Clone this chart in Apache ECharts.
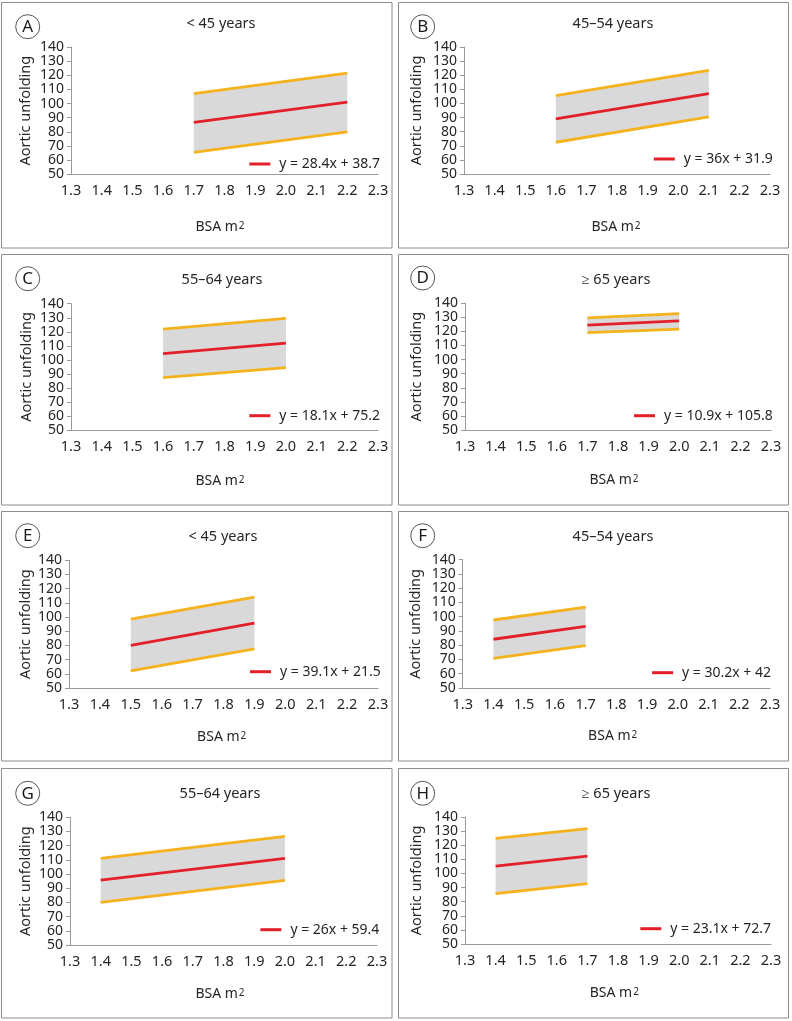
<!DOCTYPE html>
<html><head><meta charset="utf-8">
<script src="https://cdn.jsdelivr.net/npm/echarts@6/dist/echarts.min.js"></script>
<style>html,body{margin:0;padding:0;background:#fff}#c{width:792px;height:1021px}</style>
</head><body><div id="c"></div>
<script>
// ---------- data ----------
const panelLetters = ['A','B','C','D','E','F','G','H'];
const ageGroups = ['< 45 years','45–54 years','55–64 years','≥ 65 years','< 45 years','45–54 years','55–64 years','≥ 65 years'];
const equations = ['y = 28.4x + 38.7','y = 36x + 31.9','y = 18.1x + 75.2','y = 10.9x + 105.8','y = 39.1x + 21.5','y = 30.2x + 42','y = 26x + 59.4','y = 23.1x + 72.7'];
const xTickLabels = ['1.3','1.4','1.5','1.6','1.7','1.8','1.9','2.0','2.1','2.2','2.3'];
const yTickLabels = [50,60,70,80,90,100,110,120,130,140];
const bsaRange   = [[1.7,2.2],[1.6,2.1],[1.6,2.0],[1.7,2.0],[1.5,1.9],[1.4,1.7],[1.4,2.0],[1.4,1.7]];
const upperBound = [[107,121.5],[105.5,123.5],[122,129.5],[129.5,132.5],[98.5,114],[97.7,106.8],[111,126.5],[124.8,131.8]];
const fitLine    = [[86.7,101],[89,107],[104.5,112],[124.3,127.3],[80,95.8],[84.2,93.3],[95.7,111],[105.2,112.2]];
const lowerBound = [[65.5,80],[72.5,90.5],[87.5,94.5],[119,121.5],[62,77.5],[70.8,79.7],[80,95.5],[85.7,92.8]];

// ---------- layout (pixels) ----------
const boxes   = [[1.5,2.5,390.5,245.5],[398.5,2.5,390,245.5],[1.5,254.5,390.5,250.5],[398.5,254.5,390,250.5],
                 [1.5,511.5,390.5,249.5],[398.5,511.5,390,249.5],[1.5,768.5,390.5,249.5],[398.5,768.5,390,249.5]];
const grids   = [[71,47,378,174.3],[464,47,770,174],[71,303.7,378,430.3],[465,303,771,430.3],
                 [69,560.3,378,688],[462.7,559.7,770,688],[70,817.3,377,945],[465,817,771,944]];
const titlePos  = [[221,25],[613,25],[222,281],[616,281],[223,538],[613,538],[220,795],[616,795]];
const badgePos  = [[27.7,26.7],[422.7,26.7],[27.7,278.7],[422.7,278],[27.7,535.7],[422.7,535.7],[27.7,793.3],[422.7,793.3]];
const legendPos = [[380,166],[772.7,161],[380,417.7],[772.7,417.7],[380.7,673.7],[771,674.7],[379.3,931.7],[771,930.7]];
const yNameX    = [25,416.7,26.7,416.7,25,415,25,416.7];
const xNamePos  = [[220,227.7],[616,227.7],[220,482],[614,481.3],[221.7,738],[612.7,737.3],[220,995],[614.3,994.3]];

const FONT = 'Noto Sans';
const TXT = '#262626';
const AXIS = '#9a9a9a';
const ORANGE = '#F5B21C';
const RED = '#E3202A';
const BAND = '#D9D9D9';
const W = 792;

const option = {
  animation: false,
  backgroundColor: '#fff',
  textStyle: { fontFamily: FONT },
  grid: [], xAxis: [], yAxis: [], series: [], title: [], legend: [], graphic: []
};

panelLetters.forEach((L, i) => {
  const g = grids[i];
  const gw = g[2] - g[0], gh = g[3] - g[1];
  option.grid.push({ left: g[0], top: g[1], width: gw, height: gh, containLabel: false });
  const gcx = g[0] + gw / 2;
  const xShift = gcx - xNamePos[i][0];
  option.xAxis.push({
    gridIndex: i, type: 'value',
    min: +xTickLabels[0], max: +xTickLabels[xTickLabels.length - 1], interval: 0.1,
    axisLine: { show: true, lineStyle: { color: AXIS, width: 1 } },
    axisTick: { show: false }, splitLine: { show: false },
    axisLabel: { fontSize: 14.5, color: TXT, fontFamily: FONT, margin: 9,
      showMinLabel: true, showMaxLabel: true, hideOverlap: false, formatter: v => (+v).toFixed(1) },
    name: 'BSA m{s|2}', nameLocation: 'middle',
    nameGap: xNamePos[i][1] - g[3] - 8,
    nameTextStyle: { fontSize: 14, color: TXT, fontFamily: FONT, padding: [0, xShift * 2, 0, 0],
      rich: { s: { fontSize: 10, color: TXT, fontFamily: FONT, verticalAlign: 'bottom', padding: [0, 0, 3, 1] } } }
  });
  option.yAxis.push({
    gridIndex: i, type: 'value',
    min: yTickLabels[0], max: yTickLabels[yTickLabels.length - 1], interval: 10,
    axisLine: { show: true, lineStyle: { color: AXIS, width: 1 } },
    axisTick: { show: true, length: 4, lineStyle: { color: AXIS } },
    splitLine: { show: false },
    axisLabel: { fontSize: 14, color: TXT, fontFamily: FONT, margin: 7, lineHeight: 14,
      showMinLabel: true, showMaxLabel: true, hideOverlap: false },
    name: 'Aortic unfolding', nameLocation: 'middle', nameRotate: 90,
    nameGap: g[0] - yNameX[i] - 8,
    nameTextStyle: { fontSize: 14.5, color: TXT, fontFamily: FONT }
  });

  const xr = bsaRange[i];
  // gray confidence band
  option.series.push({
    type: 'custom', xAxisIndex: i, yAxisIndex: i, silent: true, z: 1,
    data: [[xr[0], xr[1], lowerBound[i][0], lowerBound[i][1], upperBound[i][0], upperBound[i][1]]],
    encode: { x: [0, 1], y: [2, 3, 4, 5] },
    renderItem: (params, api) => {
      const p1 = api.coord([api.value(0), api.value(4)]);
      const p2 = api.coord([api.value(1), api.value(5)]);
      const p3 = api.coord([api.value(1), api.value(3)]);
      const p4 = api.coord([api.value(0), api.value(2)]);
      return { type: 'polygon', shape: { points: [p1, p2, p3, p4] }, style: { fill: BAND } };
    }
  });
  const mk = (name, vals, color, z) => ({
    name, type: 'line', xAxisIndex: i, yAxisIndex: i, z,
    data: xr.map((x, j) => [x, vals[j]]),
    symbol: 'none', silent: true,
    lineStyle: { color, width: 2.8 }, itemStyle: { color }
  });
  option.series.push(mk('upper' + L, upperBound[i], ORANGE, 3));
  option.series.push(mk('lower' + L, lowerBound[i], ORANGE, 3));
  option.series.push(mk(equations[i], fitLine[i], RED, 4));

  option.title.push({
    text: ageGroups[i], left: titlePos[i][0], top: titlePos[i][1] - 9, textAlign: 'center', padding: 0,
    textStyle: { fontSize: 14.5, fontWeight: 'normal', color: TXT, fontFamily: FONT }
  });
  option.legend.push({
    data: [equations[i]], right: W - legendPos[i][0], top: legendPos[i][1] - 9, padding: 0,
    icon: 'rect', itemWidth: 21, itemHeight: 3, selectedMode: false,
    textStyle: { fontSize: 14, color: TXT, fontFamily: FONT, padding: [0, 0, 0, 4] }
  });
  const b = boxes[i];
  option.graphic.push({ type: 'rect', shape: { x: b[0], y: b[1], width: b[2], height: b[3] },
    style: { fill: 'none', stroke: '#8c8c8c', lineWidth: 1 }, silent: true });
  option.graphic.push({ type: 'circle', shape: { cx: badgePos[i][0], cy: badgePos[i][1], r: 12 },
    style: { fill: '#fff', stroke: '#555', lineWidth: 1 }, silent: true });
  option.graphic.push({ type: 'text', x: badgePos[i][0], y: badgePos[i][1] + 0.5,
    style: { text: L, fontSize: 17, fontFamily: FONT, fill: '#1a1a1a', align: 'center', verticalAlign: 'middle' }, silent: true });
});

const chart = echarts.init(document.getElementById('c'), null, { renderer: 'canvas' });
chart.setOption(option);
</script>
</body></html>
